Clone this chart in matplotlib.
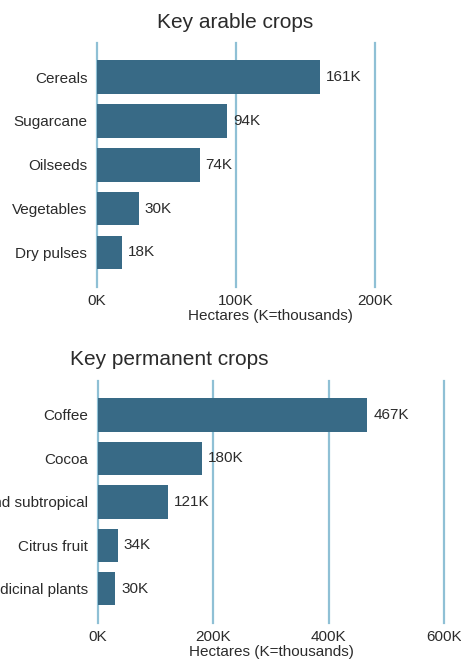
import matplotlib.pyplot as plt

# ── data ──────────────────────────────────────────────────────────────────────
arable_crops = ["Cereals", "Sugarcane", "Oilseeds", "Vegetables", "Dry pulses"]
arable_ha = [161000, 94000, 74000, 30000, 18000]
arable_ticks = [0, 100000, 200000]
arable_ticklabels = ["0K", "100K", "200K"]

perm_crops = ["Coffee", "Cocoa", "Tropical and subtropical", "Citrus fruit",
              "Spice and medicinal plants"]
perm_ha = [467000, 180000, 121000, 34000, 30000]
perm_ticks = [0, 200000, 400000, 600000]
perm_ticklabels = ["0K", "200K", "400K", "600K"]

BAR = "#386a86"
GRID = "#8fc0d5"
TXT = "#2b2b2b"

plt.rcParams["font.family"] = ["Liberation Sans", "DejaVu Sans"]

W, H = 461, 659
fig = plt.figure(figsize=(W / 100, H / 100), dpi=100)


def panel(rect, cats, vals, ticks, ticklabels, xmax):
    ax = fig.add_axes(rect)
    ypos = list(range(len(cats)))
    ax.barh(ypos, vals, height=0.77, color=BAR, zorder=2)
    for y, v in zip(ypos, vals):
        ax.text(v + xmax * 0.017, y, f"{round(v / 1000)}K", va="center",
                ha="left", fontsize=11, color=TXT, zorder=3)
    ax.set_yticks(ypos)
    ax.set_yticklabels(cats, fontsize=11, color=TXT)
    ax.set_xticks(ticks)
    ax.set_xticklabels(ticklabels, fontsize=11, color=TXT)
    ax.set_xlim(0, xmax)
    ax.set_ylim(len(cats) - 1 + 0.79, -0.78)
    ax.tick_params(length=0, pad=5)
    ax.tick_params(axis="y", pad=7)
    for s in ax.spines.values():
        s.set_visible(False)
    # vertical gridlines, not clipped so the ones on the edges stay whole
    for t in ticks:
        ax.axvline(t, color=GRID, linewidth=1.6, zorder=1, clip_on=False)
    ax.set_xlabel("Hectares (K=thousands)", fontsize=11, color=TXT, labelpad=1)
    return ax


# top panel: pixel extents 97..444 wide, 43..287 tall
panel([97 / W, 1 - 287 / H, 347 / W, 244 / H], arable_crops, arable_ha,
      arable_ticks, arable_ticklabels, 250000)
# bottom panel: 381..623
panel([98 / W, 1 - 623 / H, 346 / W, 242 / H], perm_crops, perm_ha,
      perm_ticks, perm_ticklabels, 600000)

fig.text(235 / W, 1 - 23 / H, "Key arable crops", ha="center", va="center",
         fontsize=15, color=TXT)
fig.text(70 / W, 1 - 360 / H, "Key permanent crops", ha="left", va="center",
         fontsize=15, color=TXT)

fig.savefig("out.png", dpi=100)
